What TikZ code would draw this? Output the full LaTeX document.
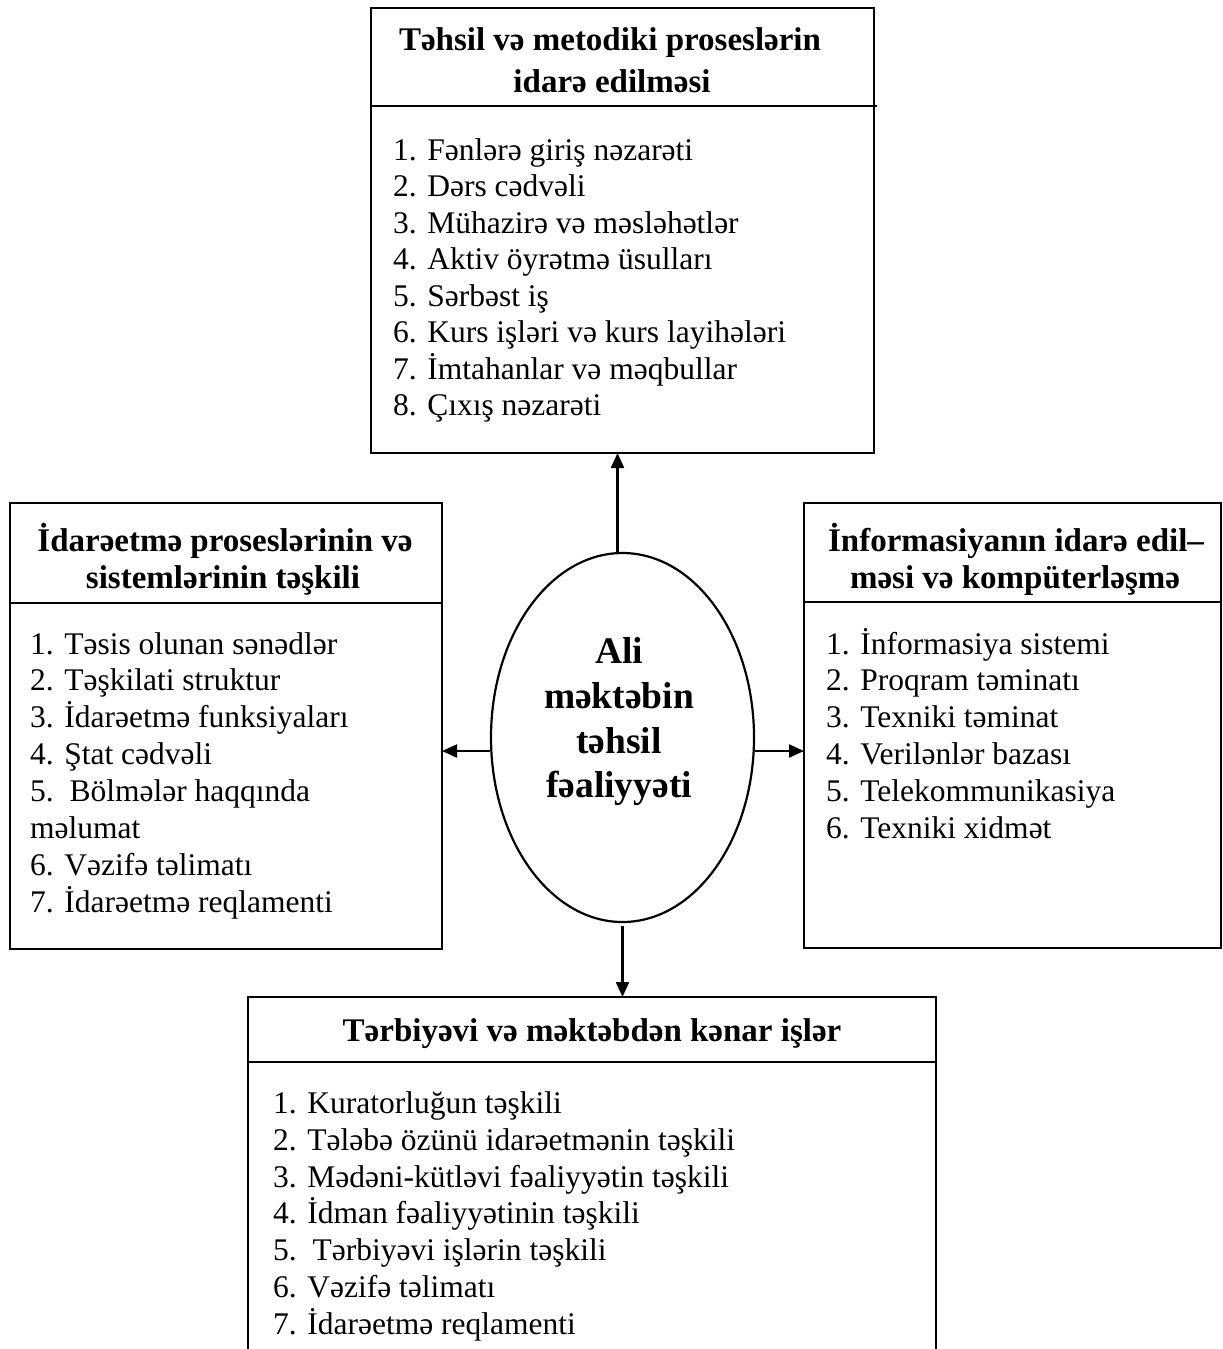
\documentclass[tikz,border=0pt]{standalone}
\usepackage{fontspec}
\setmainfont{Liberation Serif}
\usetikzlibrary{arrows.meta,shapes.geometric}
\begin{document}
\begin{tikzpicture}[x=1pt,y=-1pt,
  box/.style={draw, line width=2.2pt, inner sep=0pt, outer sep=0pt, anchor=north west},
  rulel/.style={line width=2.2pt},
  arr/.style={line width=2.2pt, -{Triangle[length=15pt,width=13pt]}},
  item/.style={anchor=base west, inner sep=0pt, font=\fontsize{31.5}{36.5}\selectfont},
  ttl/.style={anchor=base, inner sep=0pt, font=\fontsize{33}{38}\selectfont\bfseries},
  ctr/.style={anchor=base, inner sep=0pt, font=\fontsize{37.5}{44}\selectfont\bfseries}]
\useasboundingbox (0,0) rectangle (1223,1349);
\clip (0,0) rectangle (1223,1349);
\fill[white] (0,0) rectangle (1223,1349);
% boxes
\node[box, minimum width=503pt, minimum height=445pt] (top) at (371,8) {};
\node[box, minimum width=432pt, minimum height=446pt] (left) at (10,503) {};
\node[box, minimum width=417pt, minimum height=445pt] (right) at (804,503) {};
\node[box, minimum width=688pt, minimum height=420pt] (bot) at (248,997) {};
\node[draw, ellipse, line width=2.2pt, inner sep=0pt, minimum width=263pt, minimum height=369pt] (ell) at (622.5,737.5) {};
% dividers
\draw[rulel] (371,106) -- (877,106);
\draw[rulel] (10,603) -- (442,603);
\draw[rulel] (804,602) -- (1221,602);
\draw[rulel] (248,1062) -- (936,1062);
% titles
\node[ttl] (tt1) at (610,50) {Təhsil və metodiki proseslərin};
\node[ttl] (tt2) at (612,92) {idarə edilməsi};
\node[ttl] (lt1) at (225,551) {İdarəetmə proseslərinin və};
\node[ttl] (lt2) at (223,588) {sistemlərinin təşkili};
\node[ttl] (rt1) at (1016,551) {İnformasiyanın idarə edil–};
\node[ttl] (rt2) at (1015,588) {məsi və kompüterləşmə};
\node[ttl] (bt1) at (592,1041) {Tərbiyəvi və məktəbdən kənar işlər};
% ellipse text
\node[ctr] (e1) at (619,663) {Ali};
\node[ctr] (e2) at (619,708) {məktəbin};
\node[ctr] (e3) at (619,753) {təhsil};
\node[ctr] (e4) at (619,797) {fəaliyyəti};
% lists
\foreach \t [count=\i] in {1. Fənlərə giriş nəzarəti, 2. Dərs cədvəli, 3. Mühazirə və məsləhətlər, 4. Aktiv öyrətmə üsulları, 5. Sərbəst iş, 6. Kurs işləri və kurs layihələri, 7. İmtahanlar və məqbullar, 8. Çıxış nəzarəti}
  \node[item] (ta\i) at (393,{160+(\i-1)*36.5}) {\t};
\foreach \t [count=\i] in {1. Təsis olunan sənədlər, 2. Təşkilati struktur, 3. İdarəetmə funksiyaları, 4. Ştat cədvəli, {5.\ \ Bölmələr haqqında}, məlumat, 6. Vəzifə təlimatı, 7. İdarəetmə reqlamenti}
  \node[item] (la\i) at (30,{654+(\i-1)*36.9}) {\t};
\foreach \t [count=\i] in {1. İnformasiya sistemi, 2. Proqram təminatı, 3. Texniki təminat, 4. Verilənlər bazası, 5. Telekommunikasiya, 6. Texniki xidmət}
  \node[item] (ra\i) at (826,{654+(\i-1)*36.9}) {\t};
\foreach \t [count=\i] in {1. Kuratorluğun təşkili, 2. Tələbə özünü idarəetmənin təşkili, 3. Mədəni-kütləvi fəaliyyətin təşkili, 4. İdman fəaliyyətinin təşkili, {5.\ \ Tərbiyəvi işlərin təşkili}, 6. Vəzifə təlimatı, 7. İdarəetmə reqlamenti}
  \node[item] (ba\i) at (273,{1113.5+(\i-1)*36.8}) {\t};
% connectors
\draw[arr] ([xshift=-5pt]ell.north) -- ([xshift=-5pt]ell.north |- top.south);
\draw[arr] ([yshift=-13.5pt]ell.west) -- ([yshift=-13.5pt]ell.west -| left.east);
\draw[arr] ([yshift=-13.5pt]ell.east) -- ([yshift=-13.5pt]ell.east -| right.west);
\draw[arr] ([yshift=-3pt]ell.south) -- (ell.south |- bot.north);
\end{tikzpicture}
\end{document}
